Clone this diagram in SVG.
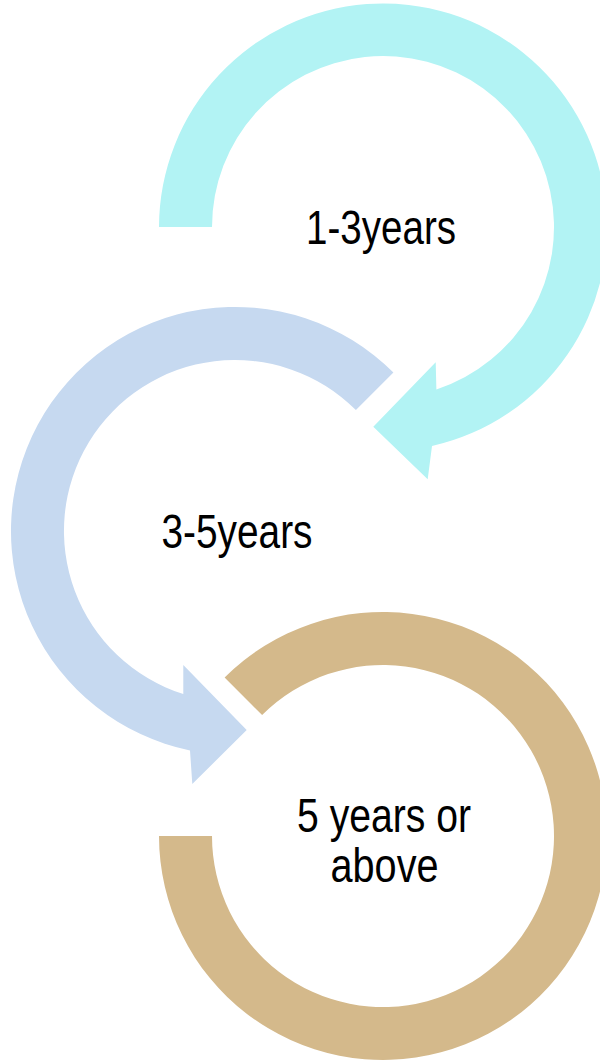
<svg xmlns="http://www.w3.org/2000/svg" width="600" height="1062" viewBox="0 0 600 1062">
<style>
.lbl{font-family:"Liberation Sans",Arial,sans-serif;font-size:48px;fill:#000;text-anchor:middle}
.cyan{fill:#B2F3F4}
.blue{fill:#C6D9F0}
.tan{fill:#D4B98B}
</style>
<rect width="600" height="1062" fill="#fff"/>
<g id="node-1-3years">
<path class="cyan" d="M159,227 A224,224 0 1 1 432,446 L427.7,479.3 L373.3,426.7 L435.7,362.3 L436.4,389.5 A171,171 0 1 0 212,227 Z"/>
<text class="lbl" x="381" y="244" textLength="150" lengthAdjust="spacingAndGlyphs">1-3years</text>
</g>
<g id="node-3-5years">
<path class="blue" d="M393.4,372.6 A224,224 0 1 0 190,750.4 L192.3,784 L246.7,730 L183.3,665 L183.3,694 A171,171 0 1 1 355.9,410.1 Z"/>
<text class="lbl" x="237" y="548" textLength="151" lengthAdjust="spacingAndGlyphs">3-5years</text>
</g>
<g id="node-5-years-or-above">
<path class="tan" d="M224.6,677.6 A224,224 0 1 1 159,836 L212,836 A171,171 0 1 0 262.1,715.1 Z"/>
<text class="lbl" x="384" y="832" textLength="174" lengthAdjust="spacingAndGlyphs">5 years or</text>
<text class="lbl" x="384.5" y="882" textLength="108" lengthAdjust="spacingAndGlyphs">above</text>
</g>
<g id="connectors"/>
</svg>
